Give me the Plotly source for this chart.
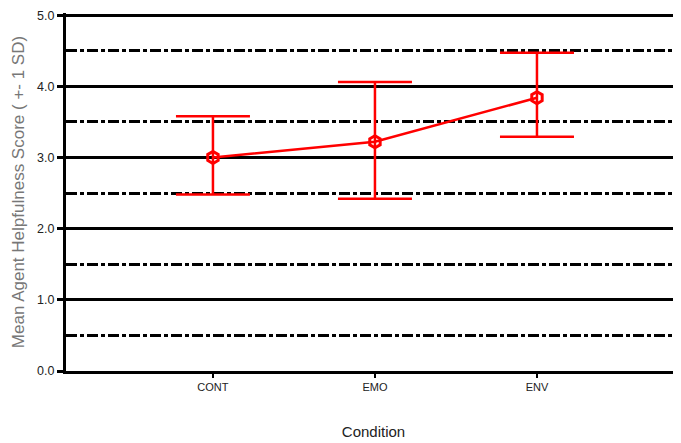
import plotly.graph_objects as go

conditions = ["CONT", "EMO", "ENV"]
means = [3.00, 3.22, 3.84]
sd_plus = [0.58, 0.84, 0.63]
sd_minus = [0.52, 0.80, 0.55]

fig = go.Figure()
fig.add_trace(go.Scatter(
    x=conditions, y=means, mode="lines+markers",
    line=dict(color="#ff0000", width=2.5),
    marker=dict(symbol="hexagon-open", size=12, color="#ff0000",
                line=dict(color="#ff0000", width=3)),
    error_y=dict(type="data", symmetric=False, array=sd_plus, arrayminus=sd_minus,
                 color="#ff0000", thickness=2.5, width=37),
    showlegend=False,
))

# page body has an 8px margin, so the figure is sized to end at the window edge
fig.update_layout(
    width=673, height=435,
    margin=dict(l=58, r=0, t=5, b=72, autoexpand=False),
    paper_bgcolor="white", plot_bgcolor="white",
    font=dict(family="Liberation Sans, Arial, sans-serif", color="#222"),
)
fig.update_xaxes(
    type="category", range=[-0.907, 2.889], automargin=False,
    showgrid=False, zeroline=False,
    showline=True, linecolor="black", linewidth=3,
    ticks="outside", ticklen=4, tickwidth=2, tickcolor="black",
    tickfont=dict(size=11, color="#222"),
    title=dict(text="Condition", font=dict(size=15, color="#222"), standoff=35),
)
fig.update_yaxes(
    range=[0, 5.03], dtick=1, tickformat=".1f", automargin=False,
    showgrid=True, gridcolor="black", gridwidth=3,
    zeroline=False,
    showline=True, linecolor="black", linewidth=3,
    ticks="outside", ticklen=6, tickwidth=3, tickcolor="black",
    tickfont=dict(size=12.5, color="#222"),
    minor=dict(dtick=0.5, showgrid=True, gridcolor="black", gridwidth=3,
               griddash="11px,3px,4px,3px", ticks=""),
    title=dict(text="Mean Agent Helpfulness Score ( +- 1 SD)",
               font=dict(size=17, color="#777"), standoff=9),
)

fig.write_html("out.html")
